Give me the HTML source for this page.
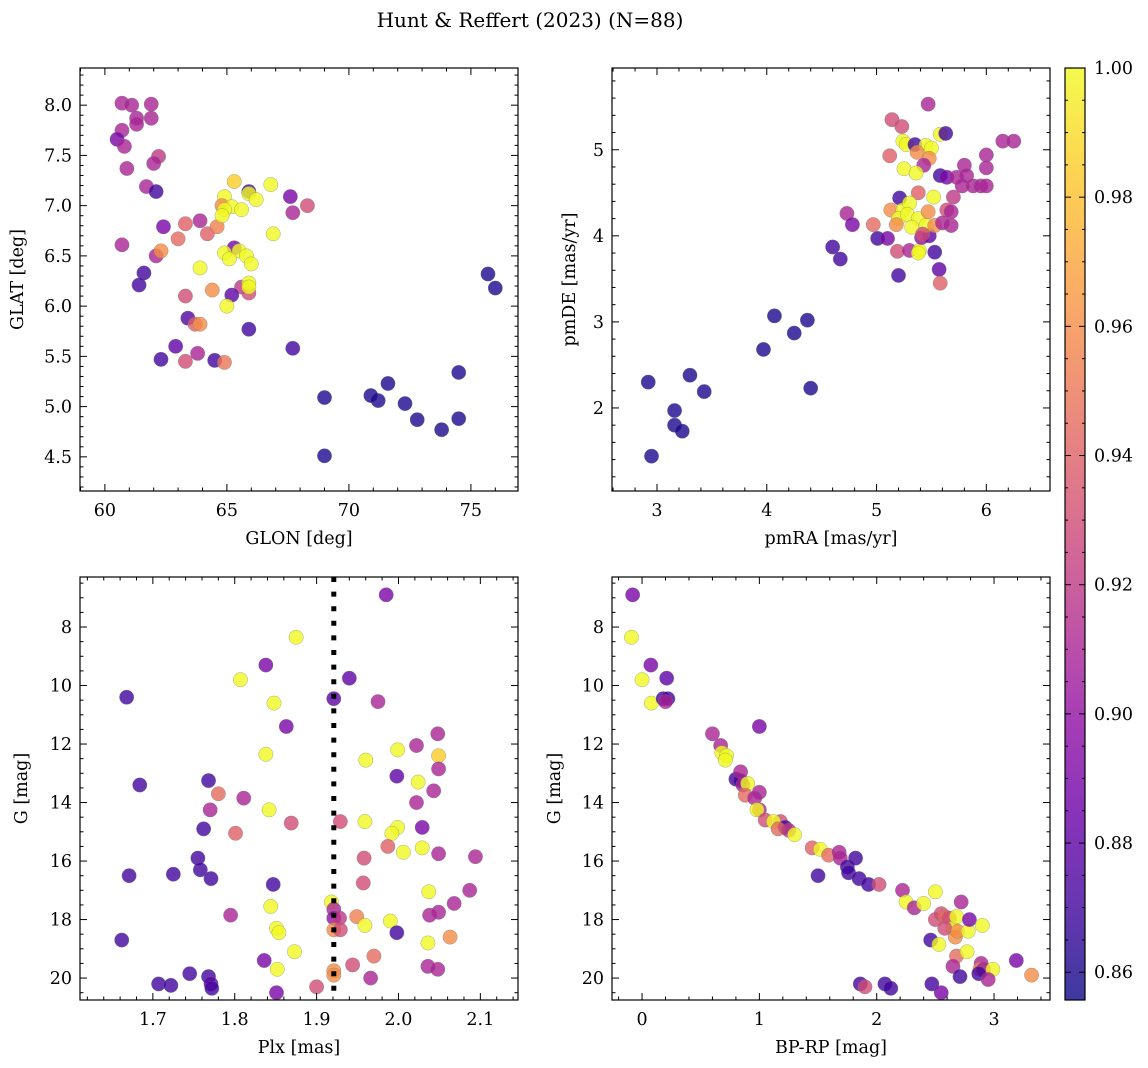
<!DOCTYPE html>
<html><head><meta charset="utf-8">
<style>
html,body{margin:0;padding:0;background:#fff;}
svg{display:block;font-family:"DejaVu Serif","Liberation Serif",serif;}
</style></head>
<body>
<svg id="fig" width="1148" height="1068" viewBox="0 0 1148 1068" xmlns="http://www.w3.org/2000/svg">
<text x="530" y="27" font-size="20" text-anchor="middle">Hunt &amp; Reffert (2023) (N=88)</text>
</svg>
<script>
// ---- data ----
const p1Glon=[60.7,61.1,61.9,61.3,61.3,61.9,60.7,60.5,60.8,60.9,62.2,62.0,61.7,62.1,62.4,60.7,62.1,62.3,61.6,61.4,63.3,63.9,64.2,63.0,64.6,65.3,64.9,64.8,65.9,65.9,66.2,66.8,67.6,67.7,68.3,65.2,64.9,64.8,65.6,66.9,65.3,64.9,65.5,65.1,65.8,66.0,63.9,64.4,65.6,65.9,65.9,65.9,65.2,65.0,63.3,63.4,63.7,63.9,65.9,62.9,63.8,62.3,63.3,64.5,64.9,67.7,75.7,76.0,74.5,71.6,72.3,71.2,70.9,69.0,72.8,74.5,73.8,69.0];
const p1Glat=[8.02,8.0,8.01,7.87,7.81,7.87,7.75,7.66,7.59,7.37,7.49,7.42,7.19,7.14,6.79,6.61,6.50,6.55,6.33,6.21,6.82,6.85,6.72,6.67,6.79,7.24,7.09,7.0,7.14,7.12,7.06,7.21,7.09,6.93,7.0,6.99,6.96,6.9,6.96,6.72,6.58,6.53,6.55,6.47,6.50,6.42,6.38,6.16,6.19,6.13,6.23,6.19,6.11,6.0,6.1,5.88,5.82,5.82,5.77,5.6,5.53,5.47,5.45,5.46,5.44,5.58,6.32,6.18,5.34,5.23,5.03,5.06,5.11,5.09,4.87,4.88,4.77,4.51];
const p1Prob=[.91,.91,.91,.91,.91,.91,.91,.89,.91,.91,.92,.91,.91,.87,.89,.91,.91,.96,.87,.87,.94,.91,.94,.945,.955,.985,1,.96,.87,1,1,1,.89,.91,.93,1,1,1,1,1,.89,1,1,1,1,1,1,.96,.92,.93,1,1,.88,1,.93,.875,.94,.96,.87,.88,.91,.87,.93,.87,.95,.87,.86,.86,.86,.86,.86,.86,.86,.86,.86,.86,.86,.86];

const p2PmRA=[2.92,2.95,3.16,3.16,3.23,3.30,3.43,3.97,4.07,4.25,4.37,4.40,4.60,4.67,4.73,4.78,4.97,5.01,5.1,5.2,5.19,5.3,5.39,5.41,5.48,5.53,5.57,5.58,5.47,5.14,5.23,5.24,5.27,5.35,5.45,5.5,5.58,5.63,5.37,5.48,5.12,5.43,5.25,5.36,5.58,5.64,5.8,5.73,5.82,6.0,6.0,6.15,6.25,5.78,5.88,5.95,6.0,5.7,5.52,5.38,5.21,5.13,5.24,5.3,5.2,5.28,5.38,5.32,5.45,5.47,5.18,5.42,5.53,5.64,5.68,5.68,5.6,5.38];
const p2PmDE=[2.30,1.44,1.97,1.80,1.73,2.38,2.19,2.68,3.07,2.87,3.02,2.23,3.87,3.73,4.26,4.13,4.13,3.97,3.97,3.54,3.82,3.83,3.83,3.98,4.0,3.81,3.61,3.45,5.53,5.35,5.27,5.1,5.06,5.06,5.05,5.02,5.18,5.19,4.97,4.9,4.93,4.82,4.78,4.73,4.7,4.68,4.82,4.68,4.7,4.94,4.79,5.1,5.1,4.58,4.58,4.58,4.58,4.45,4.45,4.5,4.44,4.3,4.3,4.38,4.2,4.25,4.2,4.1,4.12,4.28,4.13,4.02,4.12,4.3,4.28,4.12,4.15,3.8];
const p2Prob=[.86,.86,.86,.86,.86,.86,.86,.86,.86,.86,.86,.86,.87,.87,.91,.89,.945,.87,.89,.87,.93,.91,1,.9,.88,.87,.88,.94,.91,.93,.93,1,1,.87,1,1,1,.87,.96,.96,.94,.91,1,1,.87,.89,.91,.91,.91,.91,.91,.91,.91,.91,.91,.91,.91,.92,1,.94,.87,.96,1,1,1,1,1,1,1,.96,.96,.93,.96,.93,.91,.91,.91,1];

const p3Plx=[1.985,1.875,1.838,1.94,1.807,1.668,1.921,1.975,1.848,1.863,2.048,2.022,1.999,2.049,1.96,1.838,2.049,1.998,2.024,1.768,1.684,2.043,2.022,1.780,1.811,1.770,1.842,1.869,1.929,1.959,1.999,2.029,1.762,1.801,1.992,1.987,1.958,2.029,2.006,2.049,2.094,1.755,1.758,1.671,1.725,1.771,1.847,1.957,2.037,2.087,2.068,1.844,1.918,1.921,1.795,1.921,1.928,1.949,1.959,1.990,2.038,2.049,1.921,1.929,1.851,1.854,1.998,2.063,1.662,2.036,1.873,1.970,1.836,1.944,2.036,2.048,1.921,1.921,1.852,1.745,1.768,1.966,1.707,1.722,1.771,1.772,1.900,1.851];
const p3G=[6.9,8.35,9.3,9.75,9.8,10.4,10.45,10.55,10.6,11.4,11.65,12.05,12.2,12.4,12.55,12.35,12.85,13.1,13.3,13.25,13.4,13.6,14.0,13.7,13.85,14.25,14.25,14.7,14.65,14.65,14.85,14.85,14.9,15.05,15.05,15.5,15.9,15.55,15.7,15.75,15.85,15.9,16.3,16.5,16.45,16.6,16.8,16.75,17.05,17.0,17.45,17.55,17.4,17.65,17.85,17.95,17.95,17.9,18.2,18.05,17.85,17.75,18.35,18.35,18.3,18.45,18.45,18.6,18.7,18.8,19.1,19.25,19.4,19.55,19.6,19.7,19.75,19.9,19.7,19.85,19.95,20.0,20.2,20.25,20.2,20.35,20.3,20.5];
const p3Prob=[.89,1,.89,.88,1,.87,.88,.91,1,.89,.91,.91,1,.985,1,1,.91,.88,1,.87,.87,.91,.91,.945,.91,.91,1,.93,.93,1,1,.89,.87,.94,1,.94,.93,1,1,.91,.91,.87,.87,.87,.87,.87,.87,.93,1,.91,.91,1,1,.91,.91,.9,.92,.955,1,1,.91,.91,.96,.93,1,1,.87,.96,.87,1,1,.945,.89,.93,.91,.91,.96,.96,1,.87,.87,.91,.87,.87,.88,.87,.93,.89];

const p4Color=[-0.08,-0.09,0.075,0.0,0.21,0.08,0.18,0.22,0.2,1.0,0.6,0.67,0.68,0.72,0.71,0.8,0.84,0.84,0.86,0.9,0.88,1.0,0.96,1.0,0.98,1.05,1.18,1.12,1.22,1.16,1.25,1.3,1.45,1.52,1.59,1.68,1.69,1.5,1.75,1.76,1.85,1.93,1.82,2.02,2.22,2.25,2.32,2.4,2.5,2.72,2.5,2.55,2.58,2.62,2.65,2.67,2.68,2.58,2.69,2.78,2.79,2.9,2.46,2.53,2.68,2.77,2.65,2.89,2.88,2.91,2.99,3.19,3.32,2.71,2.87,2.95,1.86,1.9,2.07,2.12,2.47,2.55];
const p4G=[6.9,8.35,9.3,9.8,9.75,10.6,10.45,10.45,10.55,11.4,11.65,12.05,12.3,12.4,12.55,13.2,13.25,12.95,13.4,13.35,13.75,13.65,13.85,14.25,14.25,14.6,14.65,14.65,14.85,14.9,14.95,15.1,15.55,15.6,15.8,15.7,15.9,16.5,16.2,16.4,16.6,16.8,15.9,16.8,17.0,17.4,17.6,17.45,17.05,17.4,18.0,17.8,17.9,17.95,18.3,18.6,17.9,18.3,18.4,18.4,18.0,18.2,18.7,18.85,19.25,19.1,19.6,19.5,19.7,19.7,19.7,19.4,19.9,19.95,19.85,20.05,20.2,20.3,20.2,20.35,20.2,20.5];
const p4Prob=[.89,1,.89,1,.88,1,.87,.87,.91,.89,.91,.91,1,1,1,.87,.87,.91,.91,1,.945,.91,.91,.91,1,.93,.93,1,.87,.945,.92,1,.94,1,.945,.91,.91,.87,.87,.87,.87,.87,.87,.93,.91,1,.91,1,1,.91,.93,.93,.945,.93,1,.96,1,.93,.96,1,.89,1,.87,1,.945,1,.91,.91,.96,.91,1,.89,.96,.87,.87,.91,.87,.93,.87,.87,.87,.89];

const plxCut=[1.921];
const cbTicks=[0.86,0.88,0.90,0.92,0.94,0.96,0.98,1.00];

// ---- helpers ----
const NS="http://www.w3.org/2000/svg";
const svg=document.getElementById('fig');
function mk(tag,attrs,parent){const e=document.createElementNS(NS,tag);for(const k in attrs)e.setAttribute(k,attrs[k]);(parent||svg).appendChild(e);return e;}
const stops=[[13,8,135],[65,4,157],[106,0,168],[143,13,164],[177,42,144],[204,71,120],[225,100,98],[242,132,75],[252,166,54],[252,206,37],[240,249,33]];
function plasma(t){t=Math.max(0,Math.min(1,t));const f=t*10,i=Math.min(9,Math.floor(f)),r=f-i;const a=stops[i],b=stops[i+1];return `rgb(${Math.round(a[0]+(b[0]-a[0])*r)},${Math.round(a[1]+(b[1]-a[1])*r)},${Math.round(a[2]+(b[2]-a[2])*r)})`;}
const CMIN=0.8557,CMAX=1.0;
function cmap(v){return plasma((v-CMIN)/(CMAX-CMIN));}
function fmt(v,d){return v.toFixed(d);}

function panel(cfg){
  const g=mk('g',{});
  
  
  const {x0,y0,x1,y1}=cfg.box;
  const sx=v=>x0+(v-cfg.xr[0])/(cfg.xr[1]-cfg.xr[0])*(x1-x0);
  const sy=cfg.yinv? (v=>y0+(v-cfg.yr[0])/(cfg.yr[1]-cfg.yr[0])*(y1-y0)) : (v=>y1-(v-cfg.yr[0])/(cfg.yr[1]-cfg.yr[0])*(y1-y0));
  const pg=mk('g',{},g);
  
  
  for(let i=0;i<cfg.xs.length;i++){
    const c=mk('circle',{cx:sx(cfg.xs[i]),cy:sy(cfg.ys[i]),r:7.2,fill:cmap(cfg.ps[i]),'fill-opacity':0.8,stroke:'#777','stroke-width':0.5,'stroke-opacity':0.6},pg);
    
    
  }
  if(cfg.extra)cfg.extra(g,sx,sy);
  const fr=mk('rect',{x:x0,y:y0,width:x1-x0,height:y1-y0,fill:'none',stroke:'#000','stroke-width':1.2},g);
  
  
  const tg=mk('g',{stroke:'#000','stroke-width':1},g);
  const eps=1e-9;
  for(let v=Math.ceil(cfg.xr[0]/cfg.xmin-eps)*cfg.xmin; v<=cfg.xr[1]+eps; v+=cfg.xmin){
    const X=sx(v);const maj=Math.abs(v/cfg.xmaj-Math.round(v/cfg.xmaj))<1e-6;const L=maj?7:3.5;
    mk('line',{x1:X,x2:X,y1:y1,y2:y1-L},tg);mk('line',{x1:X,x2:X,y1:y0,y2:y0+L},tg);
    if(maj){const t=mk('text',{x:X,y:y1+25,'font-size':17.5,'text-anchor':'middle',stroke:'none'},g);t.textContent=fmt(v,cfg.xd);
      }
  }
  for(let v=Math.ceil(cfg.yr[0]/cfg.ymin-eps)*cfg.ymin; v<=cfg.yr[1]+eps; v+=cfg.ymin){
    const Y=sy(v);const maj=Math.abs(v/cfg.ymaj-Math.round(v/cfg.ymaj))<1e-6;const L=maj?7:3.5;
    mk('line',{x1:x0,x2:x0+L,y1:Y,y2:Y},tg);mk('line',{x1:x1,x2:x1-L,y1:Y,y2:Y},tg);
    if(maj){const t=mk('text',{x:x0-8,y:Y+6,'font-size':17.5,'text-anchor':'end',stroke:'none'},g);t.textContent=fmt(v,cfg.yd);
      }
  }
  const xl=mk('text',{x:(x0+x1)/2,y:y1+53,'font-size':17.5,'text-anchor':'middle'},g);xl.textContent=cfg.xlabel;
  
  const yl=mk('text',{x:0,y:0,'font-size':17.5,'text-anchor':'middle',transform:`translate(${cfg.ylx},${(y0+y1)/2}) rotate(-90)`},g);yl.textContent=cfg.ylabel;
  
}

panel({name:'glon-glat-panel',box:{x0:80,y0:68,x1:518,y1:491},xr:[58.98,76.93],yr:[4.16,8.37],xs:p1Glon,ys:p1Glat,ps:p1Prob,
  xmaj:5,xmin:1,ymaj:0.5,ymin:0.1,xd:0,yd:1,xlabel:'GLON [deg]',ylabel:'GLAT [deg]',ylx:23});
panel({name:'proper-motion-panel',box:{x0:612,y0:68,x1:1050,y1:491},xr:[2.59,6.58],yr:[1.035,5.95],xs:p2PmRA,ys:p2PmDE,ps:p2Prob,
  xmaj:1,xmin:0.2,ymaj:1,ymin:0.2,xd:0,yd:0,xlabel:'pmRA [mas/yr]',ylabel:'pmDE [mas/yr]',ylx:575});
panel({name:'parallax-mag-panel',box:{x0:80,y0:577,x1:518,y1:1000},xr:[1.611,2.146],yr:[6.29,20.75],yinv:true,xs:p3Plx,ys:p3G,ps:p3Prob,
  xmaj:0.1,xmin:0.02,ymaj:2,ymin:0.5,xd:1,yd:0,xlabel:'Plx [mas]',ylabel:'G [mag]',ylx:27,
  extra:(g,sx,sy)=>{const l=mk('line',{x1:sx(plxCut[0]),x2:sx(plxCut[0]),y1:577,y2:1000,stroke:'#000','stroke-width':5,'stroke-dasharray':'5 9.6'},g);
    }});
panel({name:'cmd-panel',box:{x0:612,y0:577,x1:1050,y1:1000},xr:[-0.256,3.477],yr:[6.29,20.75],yinv:true,xs:p4Color,ys:p4G,ps:p4Prob,
  xmaj:1,xmin:0.2,ymaj:2,ymin:0.5,xd:0,yd:0,xlabel:'BP-RP [mag]',ylabel:'G [mag]',ylx:560});

const cb=mk('g',{});


const defs=mk('defs',{},cb);
const lg=mk('linearGradient',{id:'cbg',x1:0,y1:1,x2:0,y2:0},defs);
for(let i=0;i<=20;i++)mk('stop',{offset:i/20,'stop-color':plasma(i/20)},lg);
mk('rect',{x:1065,y:68,width:20,height:932,fill:'url(#cbg)','fill-opacity':0.8,stroke:'#000','stroke-width':1.2},cb);
const cy=v=>1000-(v-CMIN)/(CMAX-CMIN)*932;
for(let v=0.86;v<=1.0+1e-9;v+=0.005){const Y=cy(v);const maj=Math.abs(v/0.02-Math.round(v/0.02))<1e-6;
  mk('line',{x1:1085,x2:1085-(maj?6:3),y1:Y,y2:Y,stroke:'#000','stroke-width':1},cb);
  mk('line',{x1:1065,x2:1065+(maj?6:3),y1:Y,y2:Y,stroke:'#000','stroke-width':1},cb);}
cbTicks.forEach(v=>{const t=mk('text',{x:1094,y:cy(v)+6,'font-size':17.5},cb);t.textContent=v.toFixed(2);
  });
</script>
</body></html>
